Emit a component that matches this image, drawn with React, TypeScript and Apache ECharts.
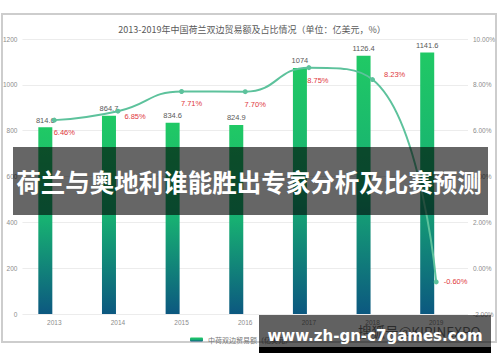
import React, { useEffect, useRef } from "react";
import * as echarts from "echarts";

const years = ["2013", "2014", "2015", "2016", "2017", "2018", "2019"];
const tradeValues = [814.6, 864.7, 834.6, 824.9, 1074, 1126.4, 1141.6];
const shareValues = [6.46, 6.85, 7.71, 7.7, 8.75, 8.23, -0.6];
const titleText = "2013-2019年中国荷兰双边贸易额及占比情况（单位：亿美元，%）";
const barName = "中荷双边贸易额（亿美元）";
const lineName = "占比（%）";
const overlayText = "荷兰与奥地利谁能胜出专家分析及比赛预测";
const watermarkText = "www.zh-gn-c7games.com";
const sohuText = "搜狐号@KIRINEXPO";

export default function App() {
  const ref = useRef<HTMLDivElement>(null);
  useEffect(() => {
    if (!ref.current) return;
    const chart = echarts.init(ref.current, null, { renderer: "svg" });
    const cjk = "'Noto Sans CJK SC', 'Liberation Sans', sans-serif";
    const barGrad = new echarts.graphic.LinearGradient(0, 0, 0, 1, [
      { offset: 0, color: "#20c965" },
      { offset: 0.5, color: "#17b072" },
      { offset: 1, color: "#0c5880" },
    ]);
    const labelPlacement: any[] = [
      { position: "bottom", offset: [10, 1] },
      { position: "right", offset: [-1, 5] },
      { position: "bottom", offset: [10, 1] },
      { position: "bottom", offset: [10, 1] },
      { position: "bottom", offset: [9, 1] },
      { position: "right", offset: [4, -5] },
      { position: "right", offset: [0, 0] },
    ];
    const option: any = {
      animation: false,
      backgroundColor: "#ffffff",
      title: {
        text: titleText,
        left: 247,
        textAlign: "center",
        top: 20,
        textStyle: { fontSize: 9, fontWeight: "normal", color: "#595959", fontFamily: cjk },
      },
      legend: {
        data: [barName],
        left: 185,
        top: 331,
        itemWidth: 13,
        itemHeight: 4,
        itemGap: 4,
        textStyle: { fontSize: 7, color: "#777", fontFamily: cjk },
      },
      grid: { left: 22, right: 32, top: 39, bottom: 48 },
      xAxis: {
        type: "category",
        data: years,
        axisLine: { show: false },
        axisTick: { show: false },
        axisLabel: { fontSize: 6.5, color: "#8c8c8c", margin: 5, fontFamily: "'Liberation Sans', sans-serif" },
      },
      yAxis: [
        {
          type: "value",
          min: 0,
          max: 1200,
          interval: 200,
          axisLabel: {
            fontSize: 6.5,
            color: "#8c8c8c",
            margin: 5,
            fontFamily: "'Liberation Sans', sans-serif",
            formatter: (v: number) => String(v),
          },
          splitLine: { lineStyle: { color: "#ececec" } },
          axisLine: { show: false },
          axisTick: { show: false },
        },
        {
          type: "value",
          min: -2,
          max: 10,
          interval: 2,
          axisLabel: {
            fontSize: 6.5,
            color: "#8c8c8c",
            margin: 5,
            fontFamily: "'Liberation Sans', sans-serif",
            formatter: (v: number) => v.toFixed(2) + "%",
          },
          splitLine: { show: false },
          axisLine: { show: false },
          axisTick: { show: false },
        },
      ],
      series: [
        {
          name: barName,
          type: "bar",
          data: tradeValues,
          barWidth: 14,
          barGap: "28%",
          itemStyle: { color: barGrad },
          label: {
            show: true,
            position: "top",
            distance: 3,
            fontSize: 7.5,
            color: "#595959",
            fontFamily: "'Liberation Sans', sans-serif",
          },
          z: 2,
        },
        {
          name: "spacer",
          type: "bar",
          data: years.map(() => "-"),
          barWidth: 14,
        },
        {
          name: lineName,
          type: "line",
          yAxisIndex: 1,
          smooth: 0.5,
          symbol: "circle",
          symbolSize: 5,
          data: shareValues.map((v, i) => ({
            value: v,
            label: labelPlacement[i],
          })),
          lineStyle: { color: "#5dc29c", width: 2 },
          itemStyle: { color: "#5dc29c" },
          label: {
            show: true,
            fontSize: 7.5,
            color: "#e0383c",
            fontFamily: "'Liberation Sans', sans-serif",
            formatter: (p: any) => p.value.toFixed(2) + "%",
          },
          z: 5,
        },
      ],
      graphic: [
        {
          type: "rect",
          z: 0,
          shape: { x: 2, y: 14, width: 494, height: 328 },
          style: { fill: "none", stroke: "#cdcdcd", lineWidth: 2 },
        },
        {
          type: "rect",
          z: 100,
          shape: { x: 13, y: 147, width: 475, height: 68 },
          style: { fill: "rgba(0,0,0,0.6)" },
        },
        {
          type: "text",
          z: 101,
          x: 249,
          y: 181,
          style: {
            text: overlayText,
            fill: "#ffffff",
            fontSize: 24.5,
            fontWeight: "bold",
            fontFamily: cjk,
            textAlign: "center",
            textVerticalAlign: "middle",
          },
        },
        {
          type: "rect",
          z: 100,
          shape: { x: 259, y: 315, width: 232, height: 32 },
          style: { fill: "rgba(0,0,0,0.62)" },
        },
        {
          type: "rect",
          z: 100,
          shape: { x: 259, y: 347, width: 232, height: 6 },
          style: { fill: "#000000" },
        },
        {
          type: "text",
          z: 101,
          x: 358,
          y: 331,
          style: {
            text: sohuText,
            fill: "rgba(25,25,25,0.75)",
            fontSize: 13.5,
            fontFamily: cjk,
            textVerticalAlign: "middle",
          },
        },
        {
          type: "text",
          z: 102,
          x: 375,
          y: 336,
          style: {
            text: watermarkText,
            fill: "#ffffff",
            fontSize: 15,
            fontWeight: "bold",
            fontFamily: "'DejaVu Sans', sans-serif",
            textAlign: "center",
            textVerticalAlign: "middle",
          },
        },
      ],
    };
    chart.setOption(option);
    return () => chart.dispose();
  }, []);
  return (
    <div
      ref={ref}
      style={{ position: "fixed", left: 0, top: 0, width: 500, height: 362 }}
    />
  );
}
